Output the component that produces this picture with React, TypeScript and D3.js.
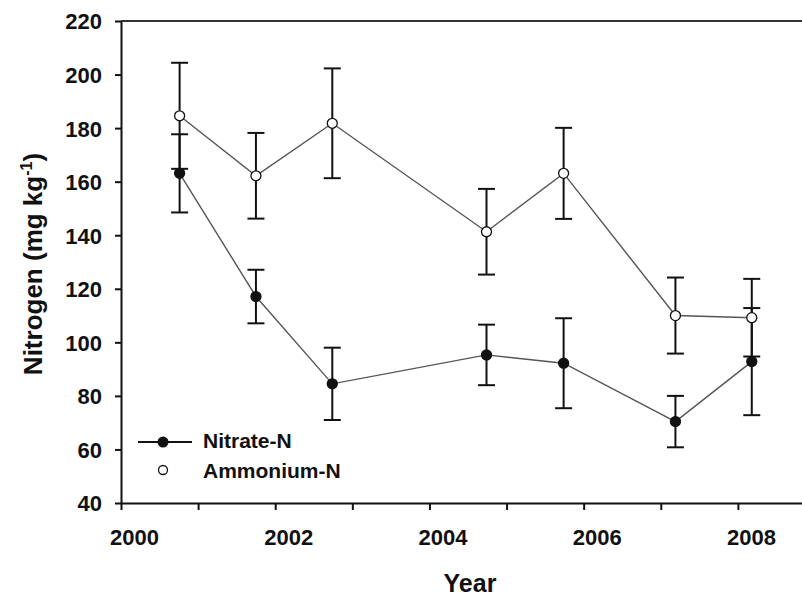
import { useEffect, useRef } from "react";
import * as d3 from "d3";

// sampling years (fractional: points sit between the yearly ticks)
const years = [2000.76, 2001.75, 2002.74, 2004.74, 2005.74, 2007.19, 2008.18];
const nitrate = [163.1, 117.1, 84.5, 95.3, 92.2, 70.4, 92.8];
const nitrateErr = [14.6, 10, 13.5, 11.3, 16.8, 9.6, 20];
const ammonium = [184.6, 162.2, 181.8, 141.3, 163.1, 110, 109.2];
const ammoniumErr = [19.8, 16, 20.5, 16, 17, 14.2, 14.5];

const xTicks = d3.range(2000, 2009);
const yTicks = d3.range(40, 221, 20);

const W = 802;
const H = 598;
const FONT = "'Liberation Sans', Arial, sans-serif";
const INK = "#111";

export default function App() {
  const ref = useRef<SVGSVGElement | null>(null);

  useEffect(() => {
    const el = ref.current;
    if (!el) return;
    const svg = d3.select(el);
    svg.selectAll("*").remove();

    const x = d3.scaleLinear().domain([2000, 2009]).range([121, 815]);
    const y = d3.scaleLinear().domain([40, 220]).range([503, 21]);

    // frame: top line (right side falls outside the picture)
    svg
      .append("line")
      .attr("x1", x(2000))
      .attr("x2", W)
      .attr("y1", y(220))
      .attr("y2", y(220))
      .attr("stroke", "#333")
      .attr("stroke-width", 2);

    const xAxis = d3
      .axisBottom(x)
      .tickValues(xTicks)
      .tickSize(7)
      .tickSizeOuter(0)
      .tickFormat((d) => (+d % 2 === 0 ? String(d) : ""));

    svg
      .append("g")
      .attr("transform", `translate(0,${y(40)})`)
      .call(xAxis)
      .call((g) => g.select(".domain").attr("stroke", INK).attr("stroke-width", 2))
      .call((g) => g.selectAll(".tick line").attr("stroke", INK).attr("stroke-width", 2))
      .call((g) =>
        g
          .selectAll("text")
          .attr("fill", INK)
          .attr("font-family", FONT)
          .attr("font-weight", 700)
          .attr("font-size", 22)
          .attr("dx", 13)
          .attr("y", 42)
          .attr("dy", 0)
      );

    const yAxis = d3.axisLeft(y).tickValues(yTicks).tickSize(6).tickSizeOuter(0);

    svg
      .append("g")
      .attr("transform", `translate(${x(2000)},0)`)
      .call(yAxis)
      .call((g) => g.select(".domain").attr("stroke", INK).attr("stroke-width", 2))
      .call((g) => g.selectAll(".tick line").attr("stroke", INK).attr("stroke-width", 2))
      .call((g) =>
        g
          .selectAll("text")
          .attr("fill", INK)
          .attr("font-family", FONT)
          .attr("font-weight", 700)
          .attr("font-size", 22)
          .attr("x", -19)
          .attr("dy", "0.36em")
      );

    // axis titles
    svg
      .append("text")
      .attr("x", 470)
      .attr("y", 592)
      .attr("text-anchor", "middle")
      .attr("font-family", FONT)
      .attr("font-weight", 700)
      .attr("font-size", 25)
      .attr("fill", INK)
      .text("Year");

    const yt = svg
      .append("text")
      .attr("transform", "translate(42,264) rotate(-90)")
      .attr("text-anchor", "middle")
      .attr("font-family", FONT)
      .attr("font-weight", 700)
      .attr("font-size", 26)
      .attr("fill", INK);
    yt.append("tspan").text("Nitrogen (mg kg");
    yt.append("tspan").attr("font-size", 16).attr("dy", -10).text("-1");
    yt.append("tspan").attr("dy", 10).text(")");

    const series = [
      { values: ammonium, err: ammoniumErr, fill: "#fff" },
      { values: nitrate, err: nitrateErr, fill: INK },
    ];

    const line = d3
      .line<number>()
      .x((_, i) => x(years[i]))
      .y((d) => y(d));

    series.forEach((s) => {
      svg
        .append("path")
        .attr("d", line(s.values))
        .attr("fill", "none")
        .attr("stroke", "#555")
        .attr("stroke-width", 1.4);
    });

    const capW = 8.5;
    series.forEach((s) => {
      const g = svg.append("g").attr("stroke", INK).attr("stroke-width", 2);
      s.values.forEach((v, i) => {
        const cx = x(years[i]);
        const hi = y(v + s.err[i]);
        const lo = y(v - s.err[i]);
        g.append("line").attr("x1", cx).attr("x2", cx).attr("y1", hi).attr("y2", lo);
        g.append("line").attr("x1", cx - capW).attr("x2", cx + capW).attr("y1", hi).attr("y2", hi);
        g.append("line").attr("x1", cx - capW).attr("x2", cx + capW).attr("y1", lo).attr("y2", lo);
      });
    });

    series.forEach((s) => {
      svg
        .append("g")
        .selectAll("circle")
        .data(s.values)
        .join("circle")
        .attr("cx", (_, i) => x(years[i]))
        .attr("cy", (d) => y(d))
        .attr("r", 5)
        .attr("fill", s.fill)
        .attr("stroke", INK)
        .attr("stroke-width", 1.3);
    });

    // legend
    const lg = svg.append("g").attr("font-family", FONT).attr("font-weight", 700).attr("font-size", 21).attr("fill", INK);
    lg.append("line").attr("x1", 138).attr("x2", 192).attr("y1", 442).attr("y2", 442).attr("stroke", INK).attr("stroke-width", 2);
    lg.append("circle").attr("cx", 163).attr("cy", 442).attr("r", 5.5).attr("fill", INK);
    lg.append("text").attr("x", 203).attr("y", 448).text("Nitrate-N");
    lg.append("circle").attr("cx", 163).attr("cy", 470).attr("r", 4.5).attr("fill", "#fff").attr("stroke", INK).attr("stroke-width", 1.3);
    lg.append("text").attr("x", 203).attr("y", 478).text("Ammonium-N");
  }, []);

  return (
    <svg
      ref={ref}
      width={W}
      height={H}
      viewBox={`0 0 ${W} ${H}`}
      style={{ position: "absolute", left: 0, top: 0, background: "#fff" }}
    />
  );
}
